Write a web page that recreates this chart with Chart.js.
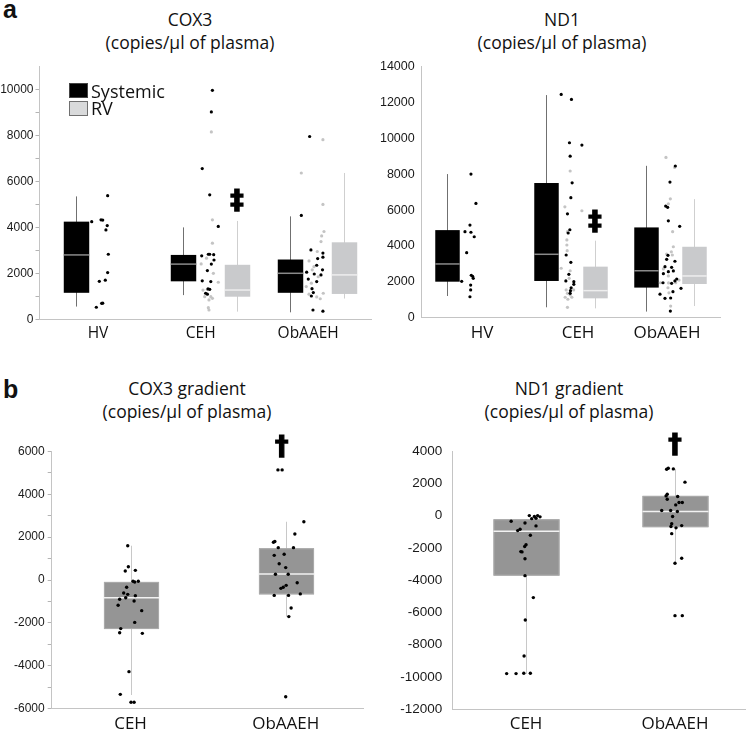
<!DOCTYPE html>
<html>
<head>
<meta charset="utf-8">
<script src="https://cdn.jsdelivr.net/npm/chart.js@4.4.1/dist/chart.umd.min.js"></script>
<style>
  body { margin: 0; background: #fff; }
  #page { position: relative; width: 750px; height: 735px; overflow: hidden; font-family: 'Open Sans', sans-serif; color: #111; }
  .panel { position: absolute; font-family: 'Liberation Sans', Arial, sans-serif; font-weight: bold; font-size: 25px; line-height: 25px; }
  .title { position: absolute; width: 260px; text-align: center; font-size: 17.5px; line-height: 23.3px; }
  canvas { position: absolute; }
  .legend { position: absolute; left: 69px; top: 82px; font-size: 18px; }
  .legend div { display: flex; align-items: center; height: 17.5px; }
  .sw { width: 19px; height: 15px; box-sizing: border-box; margin-right: 3px; }
</style>
</head>
<body>
<div id="page">
  <div class="panel" style="left:3px;top:-3px">a</div>
  <div class="panel" style="left:3px;top:377px">b</div>

  <div class="title" style="left:60px;top:8px">COX3<br>(copies/µl of plasma)</div>
  <div class="title" style="left:432px;top:8px">ND1<br>(copies/µl of plasma)</div>
  <div class="title" style="left:57px;top:377px">COX3 gradient<br>(copies/µl of plasma)</div>
  <div class="title" style="left:439px;top:377px">ND1 gradient<br>(copies/µl of plasma)</div>

  <canvas id="cox3"     width="375" height="300" style="left:0;top:50px"></canvas>
  <canvas id="nd1"      width="375" height="300" style="left:375px;top:50px"></canvas>
  <canvas id="cox3Grad" width="375" height="305" style="left:0;top:430px"></canvas>
  <canvas id="nd1Grad"  width="375" height="305" style="left:375px;top:430px"></canvas>

  <div class="legend">
    <div><span class="sw" style="background:#000;border:1px solid #444"></span>Systemic</div>
    <div><span class="sw" style="background:#d9dadb;border:1px solid #707070"></span>RV</div>
  </div>
</div>

<script>
// ---- data ----
const groups     = ['HV', 'CEH', 'ObAAEH'];
const gradGroups = ['CEH', 'ObAAEH'];

// box stats: [low whisker, q1, median, q3, high whisker]
const cox3SysBox = [[550, 1150, 2800, 4250, 5350], [1050, 1650, 2400, 2800, 4000], [300, 1150, 2000, 2600, 4480]];
const cox3RvBox  = [null, [330, 980, 1270, 2370, 4280], [900, 1100, 1930, 3350, 6370]];
const nd1SysBox  = [[1200, 2000, 2990, 4880, 8010], [570, 2040, 3530, 7510, 12420], [330, 1670, 2610, 5030, 8470]];
const nd1RvBox   = [null, [510, 1070, 1500, 2840, 4290], [640, 1870, 2320, 3950, 6610]];
const cox3GradBox = [[-5370, -2290, -830, -90, 1600], [-1710, -670, 280, 1480, 2720]];
const nd1GradBox  = [[-9810, -3720, -970, -230, -230], [-2950, -720, 250, 1220, 2890]];

// individual samples per group
const cox3SysPts = [
  [5380, 4250, 4330, 4320, 4080, 3890, 2830, 2030, 1700, 1650, 690, 700, 520],
  [9970, 9030, 6560, 5420, 4040, 2760, 2830, 2830, 2810, 2580, 2400, 2120, 1670, 1640, 1320, 1300, 1130, 1090],
  [7960, 4520, 3020, 2880, 2640, 2700, 2350, 2150, 2050, 1970, 1930, 1750, 1640, 1330, 1160, 1010, 400, 350],
];
const cox3RvPts = [
  [],
  [8160, 4330, 3310, 2410, 2660, 2000, 1610, 1270, 1300, 980, 980, 910, 840, 500, 400],
  [7820, 6370, 5000, 3820, 3630, 3380, 2950, 2540, 2290, 2150, 1850, 1420, 1570, 1090, 970, 890, 1130],
];
const nd1SysPts = [
  [8010, 6370, 5160, 4790, 4760, 4510, 3620, 2360, 2300, 2190, 2020, 1810, 1540, 1160],
  [12460, 12180, 9760, 9630, 9010, 7520, 6690, 5790, 4900, 4720, 3490, 3080, 2410, 2000, 1850, 2040, 1660, 1500, 1350],
  [8460, 7560, 6220, 6150, 5400, 5090, 3470, 3250, 3140, 2840, 2800, 2560, 2600, 2450, 2150, 2040, 1910, 1940, 1630, 1440, 1300, 1070, 1090, 360],
];
const nd1RvPts = [
  [],
  [8180, 6180, 5960, 4790, 4330, 4050, 3730, 2750, 2610, 2190, 1540, 1350, 1260, 1130, 1130, 1020, 1540, 570],
  [8940, 8380, 6630, 6350, 4790, 3950, 3670, 3540, 3490, 2710, 2320, 1940, 2090, 1940, 1660, 1380, 640, 1930],
];
const cox3GradPts = [
  [1600, 620, 420, 450, -340, -60, -90, -60, -610, -670, -830, -730, -900, -980, -1180, -1430, -1980, -2270, -2460, -2490, -4280, -5340, -5710, -5710],
  [5140, 5140, 2720, 2150, 1800, 1760, 1510, 1510, 1150, 1200, 760, 580, 270, 270, -130, -250, -390, -340, -720, -720, -650, -1310, -1710, -5450],
];
const nd1GradPts = [
  [0, -60, 0, -80, -170, -190, -350, -460, -640, -850, -930, -1220, -1800, -1920, -2250, -2230, -2670, -3720, -5080, -6470, -8700, -9790, -9790, -9770, -9770],
  [2870, 2930, 2890, 2070, 1320, 1220, 1010, 1180, 810, 810, 660, 310, 310, 250, -60, -500, -620, -680, -760, -1120, -2640, -2950, -6200, -6200],
];

// horizontal jitter of each dot, in group widths (layout only)
const cox3SysJit = [
  [0.296, 0.147, 0.234, 0.25, 0.292, 0.28, 0.302, 0.296, 0.274, 0.218, 0.24, 0.25, 0.19],
  [0.275, 0.265, 0.18, 0.25, 0.33, 0.175, 0.237, 0.25, 0.287, 0.29, 0.265, 0.228, 0.18, 0.26, 0.234, 0.25, 0.212, 0.228],
  [0.184, 0.106, 0.196, 0.308, 0.259, 0.308, 0.25, 0.304, 0.156, 0.227, 0.29, 0.171, 0.25, 0.206, 0.218, 0.2, 0.215, 0.308],
];
const cox3RvJit = [
  [],
  [0.265, 0.275, 0.275, 0.17, 0.22, 0.284, 0.33, 0.187, 0.228, 0.26, 0.203, 0.275, 0.243, 0.237, 0.243],
  [0.308, 0.106, 0.308, 0.318, 0.296, 0.29, 0.255, 0.178, 0.224, 0.208, 0.264, 0.152, 0.2, 0.178, 0.25, 0.283, 0.311],
];
const nd1SysJit = [
  [0.244, 0.294, 0.234, 0.184, 0.244, 0.277, 0.201, 0.247, 0.261, 0.267, 0.151, 0.241, 0.241, 0.234],
  [0.151, 0.254, 0.234, 0.359, 0.241, 0.261, 0.248, 0.214, 0.238, 0.221, 0.201, 0.248, 0.228, 0.278, 0.278, 0.198, 0.251, 0.244, 0.241],
  [0.298, 0.244, 0.201, 0.221, 0.228, 0.342, 0.224, 0.211, 0.294, 0.194, 0.261, 0.228, 0.278, 0.178, 0.312, 0.294, 0.261, 0.174, 0.355, 0.274, 0.144, 0.194, 0.251, 0.248],
];
const nd1RvJit = [
  [],
  [0.241, 0.188, 0.359, 0.214, 0.208, 0.208, 0.211, 0.151, 0.241, 0.231, 0.201, 0.214, 0.241, 0.258, 0.191, 0.218, 0.276, 0.214],
  [0.204, 0.291, 0.248, 0.228, 0.271, 0.278, 0.258, 0.211, 0.268, 0.178, 0.228, 0.148, 0.335, 0.302, 0.224, 0.234, 0.251, 0.23],
];
const cox3GradJit = [
  [-0.018, -0.014, -0.034, 0.031, -0.025, 0.016, 0.027, 0.05, -0.044, -0.018, -0.031, 0.031, -0.07, 0.023, -0.08, 0.072, 0.027, -0.063, -0.07, 0.076, -0.01, -0.066, 0.003, 0.023],
  [-0.05, -0.023, 0.117, 0.059, -0.07, -0.079, -0.048, 0.05, -0.074, -0.01, -0.042, 0, -0.066, 0.016, 0.074, 0.003, -0.031, -0.016, -0.074, 0.018, 0.094, 0.035, 0.02, 0],
];
const nd1GradJit = [
  [0.022, 0.056, 0.078, 0.094, 0.067, 0.038, -0.1, -0.007, 0.067, -0.04, -0.056, 0.029, 0, -0.009, -0.027, -0.035, -0.007, -0.007, 0.049, -0.005, -0.013, -0.13, -0.067, -0.015, 0.029],
  [-0.056, -0.045, -0.011, 0.067, -0.052, -0.06, -0.052, 0.018, 0.049, 0.027, 0.005, -0.089, -0.029, 0.016, -0.016, -0.022, 0.045, -0.027, 0.007, -0.022, 0.045, 0, 0, 0.049],
];

// tick values
const cox3Ticks     = [0, 1000, 2000, 3000, 4000, 5000, 6000, 7000, 8000, 9000, 10000];
const nd1Ticks      = [0, 2000, 4000, 6000, 8000, 10000, 12000, 14000];
const cox3GradTicks = [-6000, -5000, -4000, -3000, -2000, -1000, 0, 1000, 2000, 3000, 4000, 5000, 6000];
const nd1GradTicks  = [-12000, -10000, -8000, -6000, -4000, -2000, 0, 2000, 4000];

// ---- styles ----
const SYS  = { fill: '#000', median: '#8a8a8a', whisker: '#707070' };
const RV   = { fill: '#c9cacc', median: '#eeeeee', whisker: '#cfcfcf' };
const GRAD = { fill: '#959595', median: '#f2f2f2', whisker: '#c8c8c8', edge: '#ababab' };
const TICK_FONT = "'Liberation Sans', Arial, sans-serif";
const CAT_FONT  = "'Open Sans', sans-serif";

// box plot drawn through the chart's own scales
const boxPlugin = {
  id: 'boxes',
  beforeDatasetsDraw(chart, args, opts) {
    const { ctx, scales: { x, y } } = chart;
    (opts.items || []).forEach(b => {
      const cx   = Math.round(x.getPixelForValue(b.at)) + 0.5;
      const half = (x.getPixelForValue(b.at + b.width / 2) - x.getPixelForValue(b.at - b.width / 2)) / 2;
      const [lo, q1, med, q3, hi] = b.stats.map(v => y.getPixelForValue(v));
      ctx.save();
      ctx.strokeStyle = b.style.whisker;
      ctx.lineWidth = 1;
      ctx.beginPath(); ctx.moveTo(cx, lo); ctx.lineTo(cx, hi); ctx.stroke();
      ctx.fillStyle = b.style.fill;
      ctx.fillRect(cx - half, q3, half * 2, q1 - q3);
      if (b.style.edge) {
        ctx.strokeStyle = b.style.edge;
        ctx.strokeRect(cx - half + 0.5, q3 + 0.5, half * 2 - 1, q1 - q3 - 1);
      }
      ctx.strokeStyle = b.style.median;
      ctx.lineWidth = 1.5;
      ctx.beginPath(); ctx.moveTo(cx - half, med); ctx.lineTo(cx + half, med); ctx.stroke();
      ctx.restore();
    });
  },
  afterDraw(chart, args, opts) {
    const { ctx, scales: { x, y } } = chart;
    (opts.marks || []).forEach(m => {
      ctx.save();
      ctx.font = m.font;
      ctx.fillStyle = '#000';
      ctx.strokeStyle = '#000';
      ctx.lineWidth = 1.2;
      ctx.textAlign = 'center';
      ctx.textBaseline = 'middle';
      const px = x.getPixelForValue(m.at), py = y.getPixelForValue(m.value);
      ctx.fillText(m.text, px, py);
      ctx.strokeText(m.text, px, py);
      ctx.restore();
    });
  }
};

const toPts = (vals, jit, g) => vals.map((v, i) => ({ x: g + jit[i], y: v }));
const allPts = (sets, jits) => sets.flatMap((vals, g) => toPts(vals, jits[g], g));
const boxes = (stats, offset, width, style) =>
  stats.map((s, g) => s && { at: g + offset, width, stats: s, style }).filter(Boolean);
const dots = (data, color, r) => ({ data, backgroundColor: color, borderWidth: 0, pointRadius: r, pointHoverRadius: r });

function buildChart(id, o) {
  return new Chart(document.getElementById(id).getContext('2d'), {
    type: 'scatter',
    data: { datasets: o.datasets },
    plugins: [boxPlugin],
    options: {
      responsive: false,
      animation: false,
      events: [],
      layout: { padding: { top: o.padTop, right: o.padRight, left: 0, bottom: 0 } },
      plugins: {
        legend: { display: false },
        tooltip: { enabled: false },
        boxes: { items: o.boxes, marks: o.marks },
      },
      scales: {
        x: {
          type: 'linear', min: o.xMin, max: o.xMax,
          afterBuildTicks: s => { s.ticks = o.labelAt.map(v => ({ value: v })); },
          afterFit: s => { s.height = o.xHeight; },
          ticks: { callback: (v, i) => o.labels[i], font: { family: CAT_FONT, size: o.labelSize }, color: '#111', padding: o.labelPad, maxRotation: 0, autoSkip: false },
          grid: { display: false, drawTicks: false },
          border: { color: '#c4c4c4' },
        },
        y: {
          type: 'linear', min: o.yMin, max: o.yMax,
          afterBuildTicks: s => { s.ticks = o.yTicks.map(v => ({ value: v })); },
          afterFit: s => { s.width = o.yWidth; },
          ticks: {
            callback: v => (v % 2000 ? '' : String(v)),
            font: { family: TICK_FONT, size: o.tickSize }, color: '#1a1a1a', padding: o.tickPad, autoSkip: false,
          },
          grid: { display: o.minor, drawTicks: o.minor, drawOnChartArea: false, tickLength: 4, color: '#b4b4b4' },
          border: { color: '#c4c4c4' },
        },
      },
    },
  });
}

// a: COX3
buildChart('cox3', {
  datasets: [dots(allPts(cox3SysPts, cox3SysJit), '#000', 1.6), dots(allPts(cox3RvPts, cox3RvJit), '#c4c4c4', 1.6)],
  boxes: [...boxes(cox3SysBox, 0, 0.238, SYS), ...boxes(cox3RvBox, 0.505, 0.238, RV)],
  marks: [{ text: '‡', at: 1.505, value: 5110, font: 'bold 27px "DejaVu Sans"' }],
  xMin: -0.341, xMax: 2.762, labelAt: [0.206, 1.166, 2.17], labels: groups, labelSize: 15.5, labelPad: 5, xHeight: 30.8,
  yMin: 0, yMax: 11000, yTicks: cox3Ticks, yWidth: 39.5, tickSize: 12, tickPad: 2, minor: true,
  padTop: 16.7, padRight: 3.5,
});

// a: ND1
buildChart('nd1', {
  datasets: [dots(allPts(nd1SysPts, nd1SysJit), '#000', 1.6), dots(allPts(nd1RvPts, nd1RvJit), '#c4c4c4', 1.6)],
  boxes: [...boxes(nd1SysBox, 0, 0.246, SYS), ...boxes(nd1RvBox, 0.49, 0.246, RV)],
  marks: [{ text: '‡', at: 1.49, value: 5300, font: 'bold 27px "DejaVu Sans"' }],
  xMin: -0.251, xMax: 2.747, labelAt: [0.355, 1.32, 2.214], labels: groups, labelSize: 17, labelPad: 5, xHeight: 32.5,
  yMin: 0, yMax: 14000, yTicks: nd1Ticks, yWidth: 46.7, tickSize: 12.5, tickPad: 7, minor: false,
  padTop: 16.8, padRight: 30,
});

// b: COX3 gradient
buildChart('cox3Grad', {
  datasets: [dots(allPts(cox3GradPts, cox3GradJit), '#000', 1.7)],
  boxes: boxes(cox3GradBox, 0, 0.355, GRAD),
  marks: [{ text: '†', at: 0.975, value: 6160, font: 'bold 27px "DejaVu Sans"' }],
  xMin: -0.508, xMax: 1.5, labelAt: [0, 1], labels: gradGroups, labelSize: 17, labelPad: 5, xHeight: 26.5,
  yMin: -6000, yMax: 6000, yTicks: cox3GradTicks, yWidth: 51.7, tickSize: 12, tickPad: 3, minor: true,
  padTop: 21.5, padRight: 11.7,
});

// b: ND1 gradient
buildChart('nd1Grad', {
  datasets: [dots(allPts(nd1GradPts, nd1GradJit), '#000', 1.7)],
  boxes: boxes(nd1GradBox, 0, 0.443, GRAD),
  marks: [{ text: '†', at: 1, value: 4280, font: 'bold 27px "DejaVu Sans"' }],
  xMin: -0.495, xMax: 1.47, labelAt: [0, 1], labels: gradGroups, labelSize: 17, labelPad: 5, xHeight: 25.7,
  yMin: -12000, yMax: 4000, yTicks: nd1GradTicks, yWidth: 77.3, tickSize: 13.5, tickPad: 10, minor: false,
  padTop: 21, padRight: 5,
});
</script>
</body>
</html>
